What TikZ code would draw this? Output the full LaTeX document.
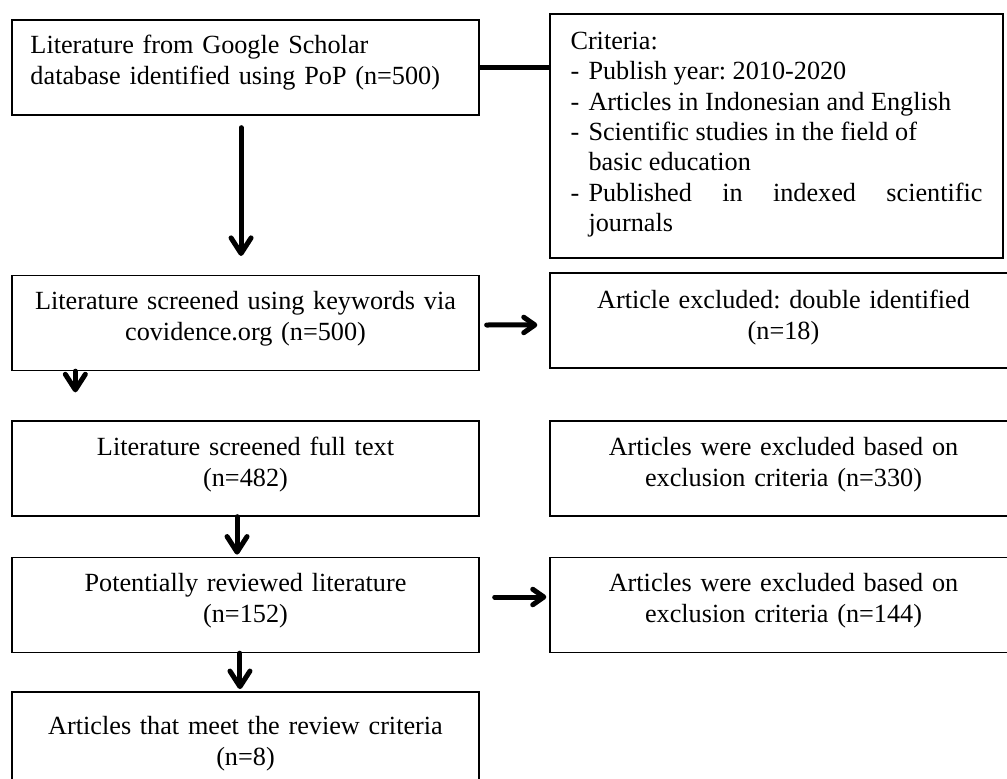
\documentclass[tikz,border=0pt]{standalone}
\usepackage{fontspec}
\setmainfont{Liberation Serif}
\usetikzlibrary{arrows.meta}
\frenchspacing

\newcommand{\critem}[1]{\hangindent=8.1pt\hangafter=1\noindent\makebox[8.1pt][l]{-}#1\par}

\begin{document}
\begin{tikzpicture}[x=0.45pt, y=-0.45pt,
    every node/.style={draw, line width=0.6pt, inner sep=0pt,
      font=\fontsize{11.8pt}{14pt}\selectfont},
    box/.style={minimum width=210.15pt, minimum height=42.75pt, text width=193.5pt, text depth=20pt, align=center},
    flow/.style={line width=2.25pt, line cap=round, -{Straight Barb[length=7pt, width=9pt, round]}},
    side/.style={line width=2.25pt, line cap=round, -{Straight Barb[length=5pt, width=7pt, round]}},
    link/.style={line width=2.25pt}]

  \useasboundingbox (0,0) rectangle (1007,778);
  \clip (0,0) rectangle (1007,778);

  % 1. boxes of the main flow (left column)
  \node [box, align=left, text depth=21pt] (lit1) at (245.5,67.5) {Literature from Google Scholar\\database identified using PoP (n=500)};
  \node [box] (lit2) at (245.5,323) {Literature screened using keywords via\\covidence.org (n=500)};
  \node [box] (lit3) at (245.5,468.5) {Literature screened full text\\(n=482)};
  \node [box] (lit4) at (245.5,605) {Potentially reviewed literature\\(n=152)};
  \node [box, minimum height=48.6pt, text depth=18.3pt] (lit5) at (245.5,746) {Articles that meet the review criteria\\(n=8)};

  % 2. criteria and excluded articles (right column)
  \node (crit) at (776.5,136) [minimum width=203.85pt, minimum height=109.8pt, text width=185.4pt,
    text depth=86pt, align=justify, font=\fontsize{11.8pt}{13.7pt}\selectfont]
    {\tolerance=10000 \hyphenpenalty=10000 \exhyphenpenalty=10000\relax
     \noindent Criteria:\par
     \critem{Publish year: 2010-2020}
     \critem{Articles in Indonesian and English}
     \critem{Scientific studies in the field of\newline basic education}
     \critem{Published in indexed scientific journals}};
  \node [box, text depth=19pt] (exc1) at (783.5,320.5) {Article excluded: double identified\\(n=18)};
  \node [box] (exc2) at (783.5,468.5) {Articles were excluded based on\\exclusion criteria (n=330)};
  \node [box] (exc3) at (783.5,605) {Articles were excluded based on\\exclusion criteria (n=144)};

  \draw [link] (lit1.east) -- (lit1.east -| crit.west);

  \draw [flow, shorten <=5.4pt, shorten >=8.5pt] ([xshift=-2pt]lit1.south) -- ([xshift=-2pt]lit2.north);
  \draw [flow, shorten >=12.6pt] ([xshift=28.8pt]lit2.south west) -- ([xshift=28.8pt]lit3.north west);
  \draw [flow, shorten >=1pt] ([xshift=-3.8pt]lit3.south) -- ([xshift=-3.8pt]lit4.north);
  \draw [flow, shorten >=1pt] ([xshift=-2.5pt]lit4.south) -- ([xshift=-2.5pt]lit5.north);

  \draw [side, shorten <=3.15pt, shorten >=5.4pt] ([yshift=-0.9pt]lit2.east) -- ([yshift=-2pt]exc1.west);
  \draw [side, shorten <=6.75pt, shorten >=1.35pt] ([yshift=3.6pt]lit4.east) -- ([yshift=3.6pt]exc3.west);

\end{tikzpicture}
\end{document}
